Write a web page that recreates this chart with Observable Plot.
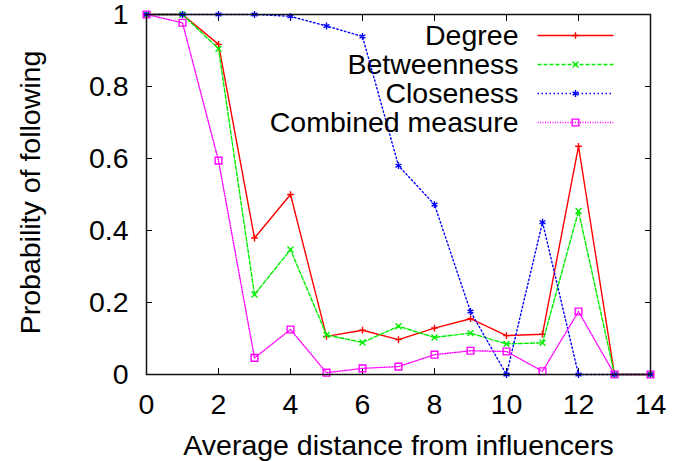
<!DOCTYPE html>
<html>
<head>
<meta charset="utf-8">
<script src="https://cdn.jsdelivr.net/npm/d3@7"></script>
<script src="https://cdn.jsdelivr.net/npm/@observablehq/plot@0.6"></script>
<style>
  html, body { margin: 0; padding: 0; background: #fff; }
</style>
</head>
<body>
<div id="chart"></div>
<script>
const distances = [0, 1, 2, 3, 4, 5, 6, 7, 8, 9, 10, 11, 12, 13, 14];
const degree      = [1, 1, 0.917, 0.379, 0.5, 0.106, 0.123, 0.097, 0.129, 0.155, 0.108, 0.112, 0.634, 0, 0];
const betweenness = [1, 1, 0.905, 0.222, 0.347, 0.11, 0.089, 0.134, 0.103, 0.115, 0.085, 0.088, 0.454, 0, 0];
const closeness   = [1, 1, 1, 1, 0.995, 0.968, 0.939, 0.58, 0.472, 0.175, 0, 0.423, 0, 0, 0];
const combined    = [1, 0.977, 0.594, 0.046, 0.125, 0.005, 0.017, 0.022, 0.055, 0.066, 0.064, 0.009, 0.175, 0, 0];

const seriesNames = ["Degree", "Betweenness", "Closeness", "Combined measure"];
const xTicks = [0, 2, 4, 6, 8, 10, 12, 14];
const yTicks = [0, 0.2, 0.4, 0.6, 0.8, 1];
const yTickLabels = ["0", "0.2", "0.4", "0.6", "0.8", "1"];
const xTitle = "Average distance from influencers";
const yTitle = "Probability of following";

const seriesValues = [degree, betweenness, closeness, combined];
const styles = [
  {color: "#ff0000", dash: null,      symbol: "plus",     r: 2.3},
  {color: "#00ee00", dash: "4,2",     symbol: "times",    r: 2.8},
  {color: "#0000ff", dash: "1.5,2.5", symbol: "asterisk", r: 3.2},
  {color: "#ff00ff", dash: "1,1.5",   symbol: "square2",  r: 4.3}
];

const FONT = 28.5;
const LW = 1.4;

const legendLine = {
  draw(context) {
    context.moveTo(-38, 0);
    context.lineTo(38, 0);
  }
};

const marks = [];
seriesNames.forEach((name, i) => {
  const rows = distances.map((d, j) => ({x: d, y: seriesValues[i][j]}));
  const s = styles[i];
  const lineOpts = {x: "x", y: "y", stroke: s.color, strokeWidth: LW};
  if (s.dash) lineOpts.strokeDasharray = s.dash;
  marks.push(Plot.line(rows, lineOpts));
  marks.push(Plot.dot(rows, {x: "x", y: "y", symbol: s.symbol, r: s.r, stroke: s.color, fill: "none", strokeWidth: LW}));
  // legend entry
  const entry = [{name}];
  marks.push(Plot.text(entry, {text: "name", frameAnchor: "top-right", textAnchor: "end", lineAnchor: "middle",
    dx: -132, dy: 21 + 29 * i, fontSize: FONT, fill: "#000"}));
  const legOpts = {frameAnchor: "top-right", dx: -75, dy: 21 + 29 * i, symbol: legendLine,
    stroke: s.color, fill: "none", strokeWidth: LW};
  if (s.dash) legOpts.strokeDasharray = s.dash;
  marks.push(Plot.dot(entry, legOpts));
  marks.push(Plot.dot(entry, {frameAnchor: "top-right", dx: -75, dy: 21 + 29 * i, symbol: s.symbol, r: s.r,
    stroke: s.color, fill: "none", strokeWidth: LW}));
});

const chart = Plot.plot({
  width: 686,
  height: 461,
  marginLeft: 146,
  marginRight: 36,
  marginTop: 14,
  marginBottom: 87,
  style: {fontFamily: "'Liberation Sans', Arial, Helvetica, sans-serif", background: "#fff", color: "#000"},
  x: {domain: [0, 14]},
  y: {domain: [0, 1]},
  marks: [
    // inward ticks on all four sides
    Plot.axisX(xTicks, {anchor: "bottom", tickSize: -6, tickFormat: () => "", label: null, strokeWidth: 1}),
    Plot.axisX(xTicks, {anchor: "top", tickSize: -6, tickFormat: () => "", label: null, strokeWidth: 1}),
    Plot.axisY(yTicks, {anchor: "left", tickSize: -6, tickFormat: () => "", label: null, strokeWidth: 1}),
    Plot.axisY(yTicks, {anchor: "right", tickSize: -6, tickFormat: () => "", label: null, strokeWidth: 1}),
    // tick labels
    Plot.axisX(xTicks, {anchor: "bottom", tickSize: 0, tickPadding: 19, fontSize: FONT, label: null, tickFormat: d => String(d)}),
    Plot.axisY(yTicks, {anchor: "left", tickSize: 0, tickPadding: 18, fontSize: FONT, label: null, tickFormat: (d, i) => yTickLabels[i]}),
    // axis titles
    Plot.text([{t: xTitle}], {text: "t", frameAnchor: "bottom", dy: 71, lineAnchor: "middle", textAnchor: "middle", fontSize: FONT, fill: "#000"}),
    Plot.text([{t: yTitle}], {text: "t", frameAnchor: "left", dx: -116, dy: -2, rotate: -90, lineAnchor: "middle", textAnchor: "middle", fontSize: FONT, fill: "#000"}),
    ...marks,
    Plot.frame({stroke: "#111", strokeWidth: 1.5})
  ]
});
document.getElementById("chart").append(chart);
</script>
</body>
</html>
